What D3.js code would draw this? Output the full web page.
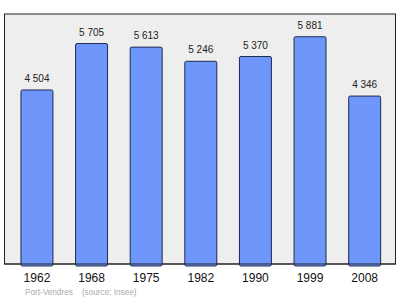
<!DOCTYPE html>
<html>
<head>
<meta charset="utf-8">
<script src="https://cdn.jsdelivr.net/npm/d3@7"></script>
<style>
  body { margin: 0; background: #fff; }
  text { font-family: "Liberation Sans", Arial, sans-serif; }
</style>
</head>
<body>
<svg width="400" height="299"></svg>
<script>
var years = ["1962", "1968", "1975", "1982", "1990", "1999", "2008"];
var population = [4504, 5705, 5613, 5246, 5370, 5881, 4346];
var valueLabels = ["4 504", "5 705", "5 613", "5 246", "5 370", "5 881", "4 346"];

var width = 400, height = 299;
var plot = {left: 4.5, top: 14, right: 395.5, bottom: 264};

var svg = d3.select('svg');

var x = d3.scaleBand()
    .domain(years)
    .range([plot.left + 0.8, plot.right + 0.8])
    .paddingInner(0.415)
    .paddingOuter(0.287);

var y = d3.scaleLinear()
    .domain([0, 6470])
    .range([plot.bottom, plot.top]);

// plot background
svg.append('rect')
    .attr('x', plot.left)
    .attr('y', plot.top)
    .attr('width', plot.right - plot.left)
    .attr('height', plot.bottom - plot.top)
    .attr('fill', '#eeeeee')
    .attr('stroke', '#222')
    .attr('stroke-width', 1);

var bars = svg.append('g').attr('class', 'bars')
    .selectAll('g')
    .data(population)
    .enter()
    .append('g');

bars.append('rect')
    .attr('x', function(d, i){ return x(years[i]) })
    .attr('y', function(d){ return y(d) })
    .attr('width', x.bandwidth())
    .attr('height', function(d){ return plot.bottom - y(d) + 2 })
    .attr('rx', 1.5)
    .attr('fill', '#6f96fb')
    .attr('stroke', '#1f2a4d')
    .attr('stroke-width', 1);

bars.append('text')
    .attr('x', function(d, i){ return x(years[i]) + x.bandwidth()/2 })
    .attr('y', function(d){ return y(d) - 8 })
    .attr('text-anchor', 'middle')
    .style('font-size', '10px')
    .attr('fill', '#222')
    .text(function(d, i){ return valueLabels[i] });

// redraw frame bottom over the bars
svg.append('line')
    .attr('x1', plot.left).attr('x2', plot.right)
    .attr('y1', plot.bottom).attr('y2', plot.bottom)
    .attr('stroke', '#222');

var xAxis = svg.append('g')
    .attr('transform', 'translate(0,' + plot.bottom + ')')
    .call(d3.axisBottom(x).tickSize(0).tickPadding(9.5));
xAxis.select('.domain').remove();
xAxis.selectAll('text')
    .style('font-size', '12px')
    .style('font-family', '"Liberation Sans", Arial, sans-serif')
    .attr('fill', '#111');

svg.append('text')
    .attr('x', 25)
    .attr('y', 295)
    .style('font-size', '8.2px')
    .attr('fill', '#aaaaaa')
    .attr('xml:space', 'preserve')
    .text('Port-Vendres    (source: Insee)');
</script>
</body>
</html>
